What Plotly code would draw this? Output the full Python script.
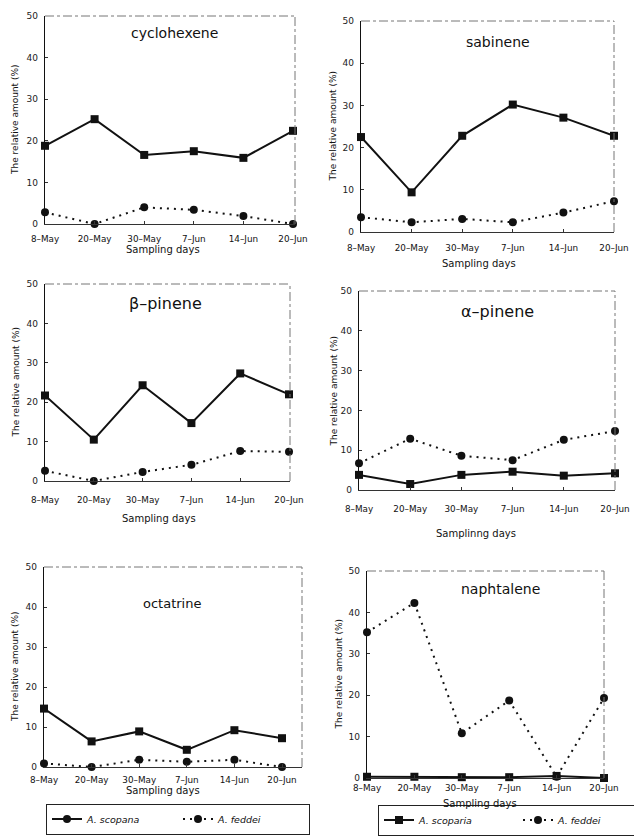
import plotly.graph_objects as go

W, H = 634, 838

# Sampling dates (x categories)
dates = ["8–May", "20–May", "30–May", "7–Jun", "14–Jun", "20–Jun"]

# Relative amount (%) of each compound per species
cyclohexene_scoparia = [18.8, 25.2, 16.6, 17.5, 15.9, 22.4]
cyclohexene_feddei = [2.8, 0.0, 4.0, 3.4, 1.9, 0.0]

sabinene_scoparia = [22.5, 9.4, 22.8, 30.2, 27.1, 22.8]
sabinene_feddei = [3.5, 2.3, 3.1, 2.3, 4.6, 7.3]

bpinene_scoparia = [21.7, 10.5, 24.3, 14.7, 27.3, 22.0]
bpinene_feddei = [2.6, 0.0, 2.3, 4.1, 7.6, 7.4]

apinene_scoparia = [3.8, 1.5, 3.8, 4.6, 3.6, 4.2]
apinene_feddei = [6.7, 12.9, 8.6, 7.5, 12.6, 14.8]

octatrine_scoparia = [14.6, 6.4, 8.9, 4.3, 9.2, 7.2]
octatrine_feddei = [0.9, 0.0, 1.8, 1.3, 1.8, 0.0]

naphtalene_scoparia = [0.3, 0.3, 0.2, 0.2, 0.5, 0.0]
naphtalene_feddei = [35.2, 42.3, 10.8, 18.7, 0.3, 19.3]

y_ticks = [0, 10, 20, 30, 40, 50]

FONT = "DejaVu Sans, Arial, sans-serif"
DOTS = "2px,5px"

# Panel layout in pixels: plot box (x0, x1, ytop, ybottom), x range max,
# title, title size, title pos, x-title text & pos, y-title x, tick standoff
panels = [
    dict(name="cyclohexene", s=cyclohexene_scoparia, f=cyclohexene_feddei,
         box=(45, 295, 16, 224), xmax=5.04, tsize=14, tpos=(174, 33),
         xt="Sampling days", xtpos=(163, 249), ytx=15, stand=6),
    dict(name="sabinene", s=sabinene_scoparia, f=sabinene_feddei,
         box=(361, 614, 21, 232), xmax=5.0, tsize=14, tpos=(498, 42),
         xt="Sampling days", xtpos=(479, 263), ytx=332, stand=7),
    dict(name="β–pinene", s=bpinene_scoparia, f=bpinene_feddei,
         box=(45, 290, 284, 481), xmax=5.02, tsize=16, tpos=(165, 303),
         xt="Sampling days", xtpos=(159, 518), ytx=15, stand=10),
    dict(name="α–pinene", s=apinene_scoparia, f=apinene_feddei,
         box=(359, 615, 291, 490), xmax=5.0, tsize=16, tpos=(497, 312),
         xt="Samplinng days", xtpos=(476, 533), ytx=333, stand=10),
    dict(name="octatrine", s=octatrine_scoparia, f=octatrine_feddei,
         box=(44, 302, 567, 767), xmax=5.42, tsize=13, tpos=(172, 603),
         xt="Sampling days", xtpos=(163, 790), ytx=15, stand=4),
    dict(name="naphtalene", s=naphtalene_scoparia, f=naphtalene_feddei,
         box=(367, 604, 571, 778), xmax=5.0, tsize=14, tpos=(500, 589),
         xt="Sampling days", xtpos=(480, 803), ytx=338, stand=1),
]

fig = go.Figure()
annotations = []
shapes = []

for i, p in enumerate(panels, start=1):
    xa = "x" if i == 1 else f"x{i}"
    ya = "y" if i == 1 else f"y{i}"
    x0, x1, yt, yb = p["box"]

    fig.add_trace(go.Scatter(
        x=list(range(len(dates))), y=p["s"], xaxis=xa, yaxis=ya,
        mode="lines+markers", showlegend=False, cliponaxis=False,
        line=dict(color="#111", width=2),
        marker=dict(symbol="square", size=8, color="#111"),
        name="A. scoparia"))
    fig.add_trace(go.Scatter(
        x=list(range(len(dates))), y=p["f"], xaxis=xa, yaxis=ya,
        mode="lines+markers", showlegend=False, cliponaxis=False,
        line=dict(color="#111", width=2, dash=DOTS),
        marker=dict(symbol="circle", size=8, color="#111"),
        name="A. feddei"))

    xkey = "xaxis" if i == 1 else f"xaxis{i}"
    ykey = "yaxis" if i == 1 else f"yaxis{i}"
    fig.layout[xkey] = dict(
        domain=[x0 / W, x1 / W], anchor=ya, range=[0, p["xmax"]],
        tickmode="array", tickvals=list(range(len(dates))), ticktext=dates,
        showgrid=False, zeroline=False, showline=True, linecolor="#333",
        linewidth=1, ticks="inside", ticklen=3, tickcolor="#333",
        ticklabelstandoff=p["stand"],
        tickfont=dict(family=FONT, size=8.8, color="#111"))
    fig.layout[ykey] = dict(
        domain=[1 - yb / H, 1 - yt / H], anchor=xa, range=[0, 50],
        tickvals=y_ticks, showgrid=False, zeroline=False, showline=True,
        linecolor="#111", linewidth=1.3, ticks="inside", ticklen=3,
        tickcolor="#333", ticklabelstandoff=4,
        tickfont=dict(family=FONT, size=9, color="#222"))

    # faint frame on top and right side
    shapes.append(dict(type="line", xref=f"{xa} domain", yref=f"{ya} domain",
                       x0=0, x1=1, y0=1, y1=1,
                       line=dict(color="#777", width=1, dash="dashdot")))
    shapes.append(dict(type="line", xref=f"{xa} domain", yref=f"{ya} domain",
                       x0=1, x1=1, y0=0, y1=1,
                       line=dict(color="#777", width=1, dash="dashdot")))

    annotations.append(dict(
        text=p["name"], x=p["tpos"][0] / W, y=1 - p["tpos"][1] / H,
        xref="paper", yref="paper", showarrow=False,
        xanchor="center", yanchor="middle",
        font=dict(family=FONT, size=p["tsize"], color="#111")))
    annotations.append(dict(
        text=p["xt"], x=p["xtpos"][0] / W, y=1 - p["xtpos"][1] / H,
        xref="paper", yref="paper", showarrow=False,
        xanchor="center", yanchor="middle",
        font=dict(family=FONT, size=10, color="#111")))
    annotations.append(dict(
        text="The relative amount (%)", x=p["ytx"] / W,
        y=1 - ((yt + yb) / 2) / H, xref="paper", yref="paper",
        showarrow=False, textangle=-90, xanchor="center", yanchor="middle",
        font=dict(family=FONT, size=9, color="#111")))

# Legend entries (legend-only traces)
legend_items = [
    ("legend", "<i>A. scopana</i>", "solid", "circle"),
    ("legend", "<i>A. feddei</i>", DOTS, "circle"),
    ("legend2", "<i>A. scoparia</i>", "solid", "square"),
    ("legend2", "<i>A. feddei</i>", DOTS, "circle"),
]
for lg, name, dash, sym in legend_items:
    fig.add_trace(go.Scatter(
        x=[None], y=[None], mode="lines+markers", name=name, legend=lg,
        line=dict(color="#111", width=2, dash=dash),
        marker=dict(symbol=sym, size=8, color="#111")))

legend_style = dict(
    orientation="h", xref="paper", yref="paper", yanchor="middle",
    bgcolor="white", bordercolor="#222", borderwidth=1,
    font=dict(family=FONT, size=9.5, color="#111"),
    tracegroupgap=0, itemwidth=30)

fig.update_layout(
    width=W, height=H,
    margin=dict(l=0, r=0, t=0, b=0, autoexpand=False),
    paper_bgcolor="white", plot_bgcolor="white",
    showlegend=True,
    legend=dict(**legend_style, x=46 / W, xanchor="left", y=1 - 819 / H,
                entrywidth=86),
    legend2=dict(**legend_style, x=378 / W, xanchor="left", y=1 - 820 / H,
                 entrywidth=94),
    annotations=annotations, shapes=shapes,
)

fig.write_html("out.html")
